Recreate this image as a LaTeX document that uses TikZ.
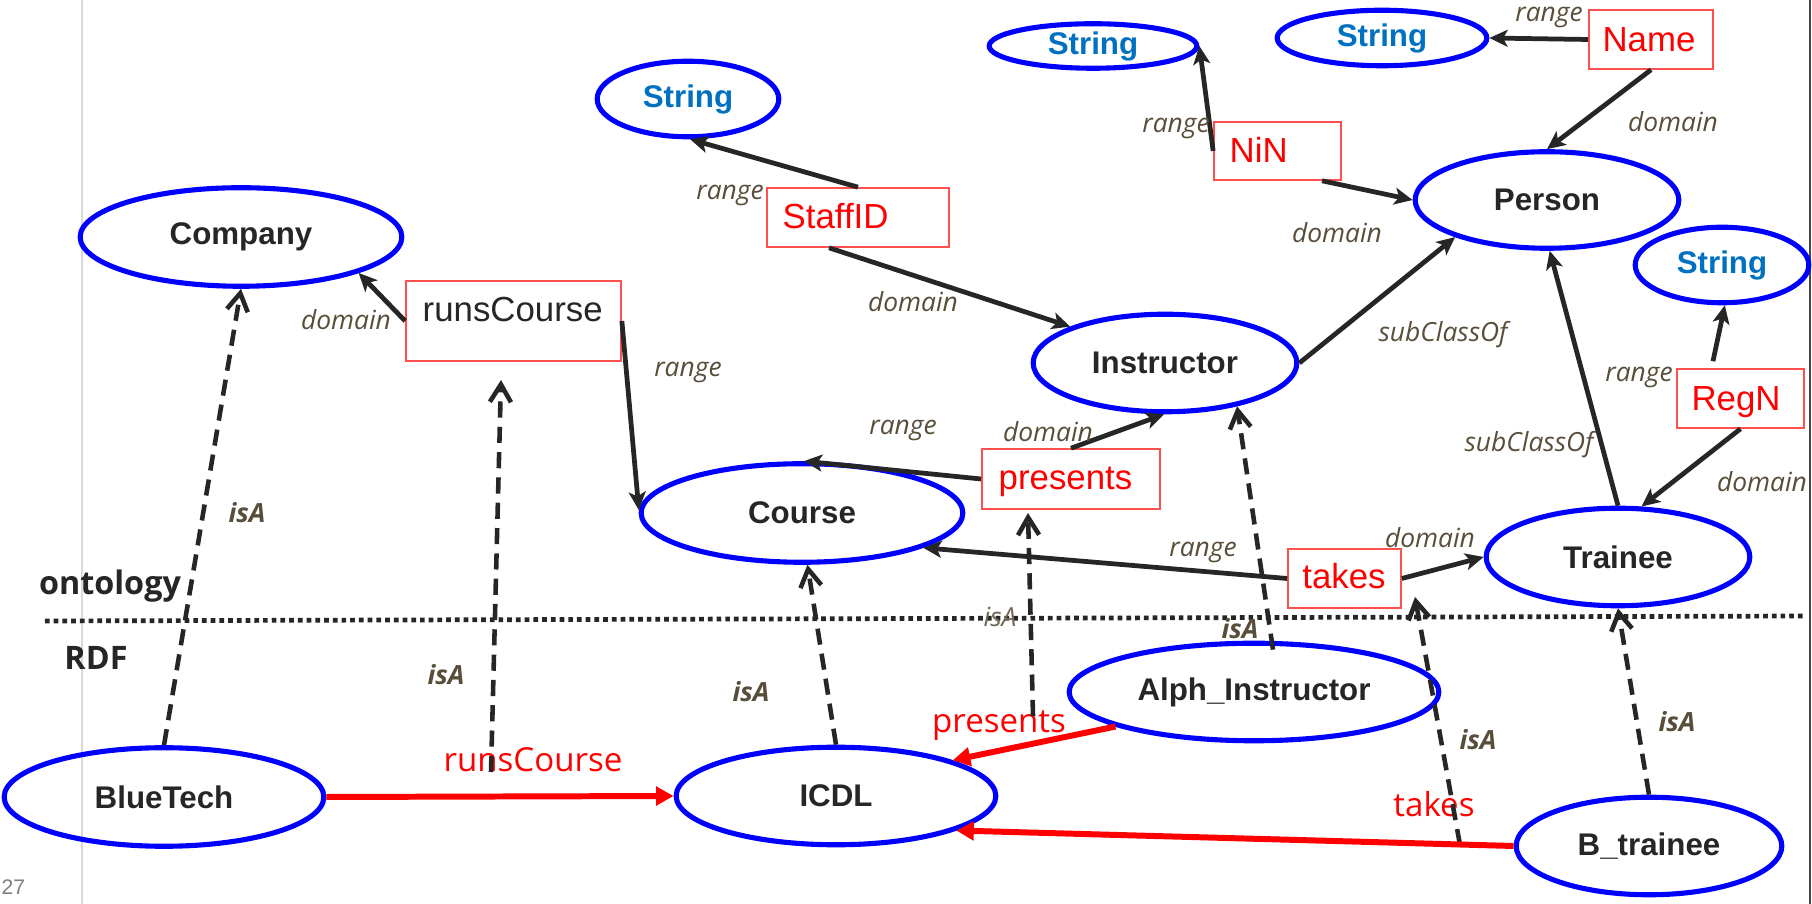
\documentclass[tikz,border=0pt]{standalone}
\usepackage{fontspec}
\setmainfont{Liberation Sans}
\newfontfamily\opensans{Open Sans}
\usetikzlibrary{shapes.geometric,arrows.meta,calc}
\definecolor{cblue}{RGB}{0,0,255}
\definecolor{strblue}{RGB}{0,112,192}
\definecolor{ink}{RGB}{38,38,38}
\definecolor{relc}{RGB}{89,78,58}
\definecolor{pred}{RGB}{255,0,0}
\definecolor{boxred}{RGB}{255,80,80}
\definecolor{sidegray}{RGB}{217,217,217}
\definecolor{numgray}{RGB}{127,127,127}
\newcommand\clsf{\fontsize{8.9pt}{10pt}\selectfont\bfseries}
\newcommand\boxf{\fontsize{9.9pt}{11pt}\selectfont}
\newcommand\relf{\opensans\fontsize{7.5pt}{9pt}\selectfont\itshape}
\newcommand\isaf{\opensans\fontsize{7.5pt}{9pt}\selectfont\bfseries\itshape}
\newcommand\layf{\opensans\fontsize{9.2pt}{11pt}\selectfont\bfseries}
\newcommand\rdff{\opensans\fontsize{9.4pt}{11pt}\selectfont}
\begin{document}
\begin{tikzpicture}[x=0.01cm,y=-0.01cm,
  cls/.style={ellipse, draw=cblue, line width=1.45pt, inner sep=0pt, text=ink, font=\clsf},
  strn/.style={cls, text=strblue},
  pbox/.style={rectangle, draw=boxred, line width=0.45pt, inner sep=0pt},
  ptext/.style={text=pred, font=\boxf, inner sep=0pt},
  btext/.style={text=ink, font=\boxf, inner sep=0pt},
  rdftext/.style={text=pred, font=\rdff, inner sep=0pt},
  rel/.style={text=relc, font=\relf, inner sep=0pt},
  isa/.style={text=relc, font=\isaf, inner sep=0pt},
  layer/.style={text=ink, font=\layf, inner sep=0pt},
  edge/.style={draw=ink, line width=1.35pt, -{Stealth[length=5.2pt,width=4.8pt,inset=1.3pt]}},
  isaedge/.style={draw=ink, line width=1.3pt, dash pattern=on 4.6pt off 2.6pt, -{Straight Barb[length=5pt,width=6pt]}},
  redge/.style={draw=pred, line width=1.7pt, -{Triangle[length=5pt,width=5.2pt]}}
]
\useasboundingbox (0,0) rectangle (1812,904);
\fill[white] (0,0) rectangle (1812,904);
% page decorations
\draw[sidegray, line width=0.4pt] (82,0) -- (82,904);
\draw[ink!85, line width=0.45pt] (1810,0) -- (1810,904);
\node[text=numgray, font=\fontsize{6pt}{7pt}\selectfont, inner sep=0pt, anchor=base west] (pgnum) at (1,895) {27};

% separator
\coordinate (sepL) at (45,621);
\coordinate (sepR) at (1806,616);
\draw[ink, line width=1.34pt, dash pattern=on 1.34pt off 1.14pt] (sepL) -- (sepR);
\node[layer] (ontology) at (110,586) {ontology};
\node[layer] (rdf) at (96,658) {RDF};

% classes
\node[strn, minimum width=1.815cm, minimum height=0.755cm] (str1) at (688,99) {String};
\node[strn, minimum width=2.075cm, minimum height=0.445cm] (str2) at (1093,46) {String};
\node[strn, minimum width=2.095cm, minimum height=0.555cm] (str3) at (1382,38) {String};
\node[strn, minimum width=1.735cm, minimum height=0.755cm] (str4) at (1722,265) {String};
\node[cls, minimum width=2.635cm, minimum height=0.965cm] (person) at (1547,200) {Person};
\node[cls, minimum width=3.215cm, minimum height=0.985cm] (company) at (241,237) {Company};
\node[cls, minimum width=2.635cm, minimum height=0.975cm] (instructor) at (1165,363) {Instructor};
\node[cls, minimum width=3.215cm, minimum height=0.985cm] (course) at (802,513) {Course};
\node[cls, minimum width=2.635cm, minimum height=0.975cm] (trainee) at (1618,557) {Trainee};
\node[cls, minimum width=3.195cm, minimum height=0.985cm] (bluetech) at (164,797) {BlueTech};
\node[cls, minimum width=3.195cm, minimum height=0.975cm] (icdl) at (836,796) {ICDL};
\node[cls, minimum width=3.695cm, minimum height=0.975cm] (alph) at (1254,692) {Alph\_Instructor};
\node[cls, minimum width=2.655cm, minimum height=0.975cm] (btrainee) at (1649,846) {B\_trainee};

% property boxes
\node[pbox, minimum width=2.15cm, minimum height=0.80cm] (runsbox) at (513.5,321) {};
\node[btext, anchor=base west] (runsT) at (422,322) {runsCourse};
\node[pbox, minimum width=1.82cm, minimum height=0.59cm] (staffbox) at (858,217.5) {};
\node[ptext, anchor=base west] (staffT) at (782,229) {StaffID};
\node[pbox, minimum width=1.27cm, minimum height=0.58cm] (ninbox) at (1277.5,151) {};
\node[ptext, anchor=base west] (ninT) at (1229,163) {NiN};
\node[pbox, minimum width=1.24cm, minimum height=0.59cm] (namebox) at (1651,39.5) {};
\node[ptext, anchor=base] (nameT) at (1649,52) {Name};
\node[pbox, minimum width=1.27cm, minimum height=0.59cm] (regnbox) at (1740.5,398.5) {};
\node[ptext, anchor=base] (regnT) at (1736,411) {RegN};
\node[pbox, minimum width=1.78cm, minimum height=0.60cm] (presbox) at (1071,479) {};
\node[ptext, anchor=base west] (presT) at (998,490) {presents};
\node[pbox, minimum width=1.13cm, minimum height=0.59cm] (takesbox) at (1344.5,578.5) {};
\node[ptext, anchor=base] (takesT) at (1344,589) {takes};

% RDF property labels
\node[rdftext, anchor=base] (rcL) at (533,772) {runsCourse};
\node[rdftext, anchor=base] (prL) at (999,733) {presents};
\node[rdftext, anchor=base] (tkL) at (1434,817) {takes};

% ontology edges
\draw[edge] (staffbox.north) -- (str1.-87);
\draw[edge] ([xshift=-0.29cm]staffbox.south) -- (instructor.159.6);
\draw[edge] (runsbox.west) -- (company.-17.5);
\draw[edge] (runsbox.east) -- (course.179.7);
\draw[edge] (presbox.west) -- (course.88);
\draw[edge] (presbox.north) -- (instructor.-91);
\draw[edge] (ninbox.west) -- (str2.east);
\draw[edge] ([xshift=0.445cm]ninbox.south) -- (person.west);
\draw[edge] (namebox.west) -- (str3.east);
\draw[edge] (namebox.south) -- (person.north);
\draw[edge] (instructor.east) -- (person.-158.7);
\draw[edge] (trainee.north) -- (person.-87);
\draw[edge] ([xshift=-0.275cm,yshift=0.07cm]regnbox.north) -- (str4.-86);
\draw[edge] (regnbox.south) -- (trainee.65.8);
\draw[edge] (takesbox.west) -- (course.-16.5);
\draw[edge] (takesbox.east) -- (trainee.west);

% relation labels
\node[rel] (r1) at (730,195) {range};
\node[rel] (d1) at (346,320) {domain};
\node[rel] (r2) at (688,372) {range};
\node[rel] (d2) at (913,302) {domain};
\node[rel] (r3) at (903,430) {range};
\node[rel] (d3) at (1048,432) {domain};
\node[rel] (r4) at (1176,128) {range};
\node[rel] (d4) at (1337,233) {domain};
\node[rel] (r5) at (1549,17) {range};
\node[rel] (d5) at (1673,122) {domain};
\node[rel] (s1) at (1443,335) {subClassOf};
\node[rel] (r6) at (1639,377) {range};
\node[rel] (s2) at (1529,445) {subClassOf};
\node[rel] (d6) at (1762,482) {domain};
\node[rel] (d7) at (1430,538) {domain};
\node[rel] (r7) at (1203,552) {range};

% isA edges
\coordinate (rcTail) at (491,772);
\coordinate (rcHead) at (501,380);
\coordinate (prTail) at (1033,716);
\coordinate (prHead) at (1028,513);
\coordinate (tkTail) at (1460,845);
\coordinate (tkHead) at (1415,597);
\draw[isaedge] (bluetech.north) -- (company.south);
\draw[isaedge] (rcTail) -- (rcHead);
\draw[isaedge] (icdl.north) -- (course.-84.5);
\draw[isaedge] (prTail) -- (prHead);
\draw[isaedge] ([xshift=0.19cm,yshift=-0.09cm]alph.north) -- (instructor.-31.3);
\draw[isaedge] (tkTail) -- (tkHead);
\draw[isaedge] (btrainee.north) -- (trainee.south);

\node[isa] (i1) at (247,513) {isA};
\node[isa] (i2) at (446,675) {isA};
\node[isa] (i3) at (751,692) {isA};
\node[rel, text=relc!85] (i4) at (1000,617) {isA};
\node[isa] (i5) at (1240,629) {isA};
\node[isa] (i6) at (1478,740) {isA};
\node[isa] (i7) at (1677,722) {isA};

% RDF edges
\draw[redge] (bluetech.east) -- (icdl.west);
\draw[redge] (alph.194.7) -- (icdl.17.2);
\draw[redge] (btrainee.west) -- (icdl.-16.3);
\end{tikzpicture}
\end{document}
